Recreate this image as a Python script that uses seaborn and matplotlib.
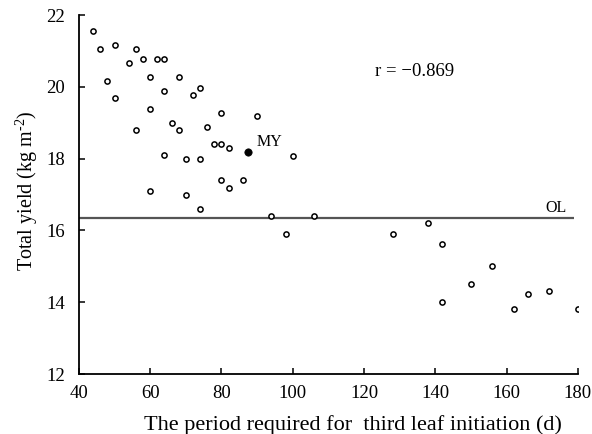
import numpy as np
import pandas as pd
import matplotlib
matplotlib.use("Agg")
import matplotlib.pyplot as plt
import seaborn as sns

# period to third leaf initiation (d) and total yield (kg m-2)
period = [44, 46, 50, 56, 54, 58, 62, 64, 48, 60, 68, 50, 64, 72, 74, 60,
          66, 68, 56, 76, 80, 90, 78, 80, 82, 64, 70, 74, 100, 60, 70, 80,
          82, 86, 74, 94, 106, 98, 128, 138, 142, 142, 150, 156, 162, 166,
          172, 180]
yield_ = [21.55, 21.06, 21.16, 21.06, 20.67, 20.77, 20.77, 20.77, 20.17, 20.26,
          20.26, 19.68, 19.87, 19.77, 19.97, 19.38, 18.98, 18.80, 18.80, 18.89,
          19.28, 19.18, 18.40, 18.40, 18.29, 18.09, 17.99, 17.99, 18.08, 17.10,
          17.00, 17.40, 17.19, 17.40, 16.61, 16.40, 16.40, 15.91, 15.91, 16.21,
          15.61, 14.02, 14.52, 15.00, 13.82, 14.22, 14.32, 13.82]
my_period = [87.4]
my_yield = [18.18]
ol_yield = 16.35

df = pd.DataFrame({"period": period, "yield": yield_})

sns.set_style("ticks")
plt.rcParams["font.family"] = ["Liberation Serif", "DejaVu Serif"]
plt.rcParams["mathtext.fontset"] = "custom"
plt.rcParams["mathtext.rm"] = "Liberation Serif"
plt.rcParams["text.color"] = "black"
plt.rcParams["axes.labelcolor"] = "black"

fig = plt.figure(figsize=(5.92, 4.34), dpi=100)
ax = fig.add_axes([0.1334, 0.1382, 0.8426, 0.8272])

ax.hlines(ol_yield, 40, 179, color="#555555", lw=1.6, zorder=1)
sns.scatterplot(data=df, x="period", y="yield", ax=ax, marker="o", s=14,
                facecolor="white", edgecolor="black", linewidth=1.1, zorder=3)
sns.scatterplot(x=my_period, y=my_yield, ax=ax, marker="o", s=28,
                color="black", edgecolor="black", linewidth=0.5, zorder=4)

ax.text(89.9, 18.45, "MY", fontsize=11.5, va="center", ha="left")
ax.text(171.0, 16.63, "OL", fontsize=11.5, va="center", ha="left")
ax.text(123.0, 20.42, "r = \u22120.869", fontsize=13.5, va="center", ha="left")

ax.set_xlim(40, 180)
ax.set_ylim(12, 22)
ax.set_xticks(np.arange(40, 181, 20))
ax.set_yticks(np.arange(12, 23, 2))
ax.tick_params(direction="in", length=4.5, width=1.1, colors="black",
               labelsize=13.5)
ax.tick_params(axis="x", pad=8)
ax.tick_params(axis="y", pad=10)
for s in ["left", "bottom"]:
    ax.spines[s].set_linewidth(1.3)
    ax.spines[s].set_color("black")
sns.despine(ax=ax)

ax.set_xlabel("The period required for  third leaf initiation (d)", fontsize=16)
ax.xaxis.set_label_coords(0.549, -0.115)
ax.set_ylabel("Total yield (kg m$^{\\text{-2}}$)", fontsize=14.5)
ax.yaxis.set_label_coords(-0.078, 0.51)

fig.savefig("out.png", dpi=100)
